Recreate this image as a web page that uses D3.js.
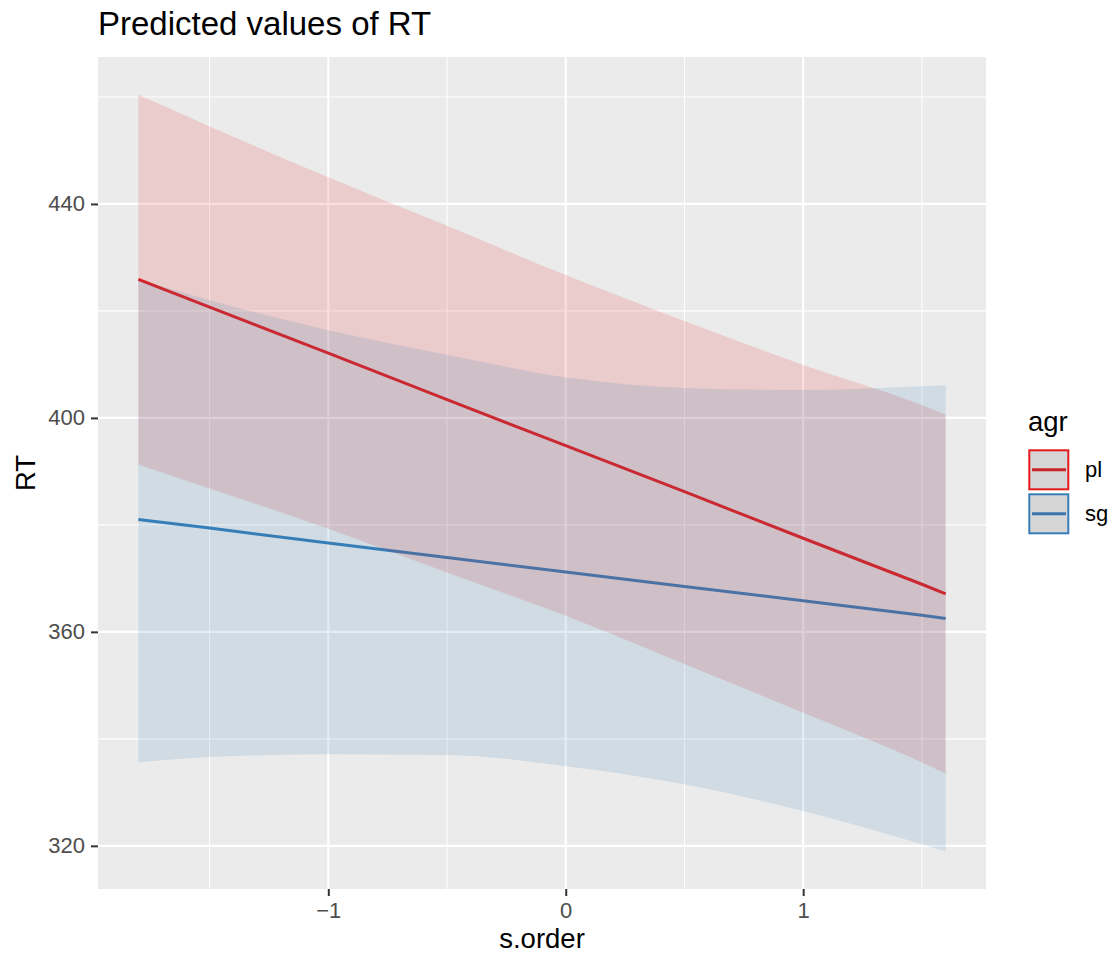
<!DOCTYPE html>
<html>
<head>
<meta charset="utf-8">
<script src="https://cdn.jsdelivr.net/npm/d3@7"></script>
<style>
  body { margin: 0; background: #fff; }
  text { font-family: "Liberation Sans", Arial, Helvetica, sans-serif; }
</style>
</head>
<body>
<svg id="chart" width="1118" height="961"></svg>
<script>
// Canvas and panel placement
const width = 1118, height = 961;
const panel = {left: 98, top: 57, right: 986, bottom: 889};

// Values
const sOrder = [-1.8, -1.5, -1, -0.5, 0, 0.5, 1, 1.5, 1.6];
const groups = ["pl", "sg"];
const plPred  = [425.9, 420.7, 412.1, 403.4, 394.8, 386.2, 377.5, 368.9, 367.1];
const plUpper = [460.4, 454.5, 445.0, 435.9, 426.7, 418.1, 409.9, 402.4, 400.6];
const plLower = [391.3, 386.8, 379.3, 371.1, 363.0, 354.0, 344.9, 335.6, 333.5];
const sgPred  = [381.0, 379.4, 376.6, 373.9, 371.2, 368.5, 365.8, 363.1, 362.5];
const sgUpper = [425.9, 422.0, 416.4, 411.8, 407.6, 405.6, 405.2, 405.9, 406.1];
const sgLower = [335.6, 336.6, 337.1, 337.0, 334.9, 331.5, 326.5, 320.3, 319.0];
const xMajor = [-1, 0, 1];
const xMinor = [-1.5, -0.5, 0.5, 1.5];
const yMajor = [320, 360, 400, 440];
const yMinor = [340, 380, 420, 460];

const colorRange = ["#e41a1c", "#377eb8"];
const keyLine = ["#cc2329", "#3b75ad"];

// build rows per group
const series = groups.map((g, gi) => {
    const pred = gi === 0 ? plPred : sgPred;
    const up = gi === 0 ? plUpper : sgUpper;
    const lo = gi === 0 ? plLower : sgLower;
    return {
        key: g,
        color: colorRange[gi],
        rows: sOrder.map((x, i) => ({x: x, y: pred[i], hi: up[i], lo: lo[i]}))
    };
});

// Scales with ggplot style 5% expansion
function expand(ext) {
    const pad = (ext[1] - ext[0]) * 0.05;
    return [ext[0] - pad, ext[1] + pad];
}
const allY = plUpper.concat(plLower, sgUpper, sgLower);
const x = d3.scaleLinear().domain(expand(d3.extent(sOrder))).range([panel.left, panel.right]);
const y = d3.scaleLinear().domain(expand(d3.extent(allY))).range([panel.bottom, panel.top]);

const svg = d3.select("#chart");

// panel background
svg.append("rect")
    .attr("x", panel.left).attr("y", panel.top)
    .attr("width", panel.right - panel.left)
    .attr("height", panel.bottom - panel.top)
    .attr("fill", "#ebebeb");

// grid
const grid = svg.append("g");
grid.selectAll(".yminor").data(yMinor).enter().append("line")
    .attr("x1", panel.left).attr("x2", panel.right)
    .attr("y1", d => y(d)).attr("y2", d => y(d))
    .attr("stroke", "#fff").attr("stroke-width", 1.1);
grid.selectAll(".xminor").data(xMinor).enter().append("line")
    .attr("y1", panel.top).attr("y2", panel.bottom)
    .attr("x1", d => x(d)).attr("x2", d => x(d))
    .attr("stroke", "#fff").attr("stroke-width", 1.1);
grid.selectAll(".ymajor").data(yMajor).enter().append("line")
    .attr("x1", panel.left).attr("x2", panel.right)
    .attr("y1", d => y(d)).attr("y2", d => y(d))
    .attr("stroke", "#fff").attr("stroke-width", 2.2);
grid.selectAll(".xmajor").data(xMajor).enter().append("line")
    .attr("y1", panel.top).attr("y2", panel.bottom)
    .attr("x1", d => x(d)).attr("x2", d => x(d))
    .attr("stroke", "#fff").attr("stroke-width", 2.2);

// prediction lines (drawn under the ribbons)
const line = d3.line().x(d => x(d.x)).y(d => y(d.y));
svg.selectAll(".pred").data(series).enter().append("path")
    .attr("d", d => line(d.rows))
    .attr("fill", "none")
    .attr("stroke", d => d.color)
    .attr("stroke-width", 3);

// confidence ribbons
const area = d3.area()
    .curve(d3.curveMonotoneX)
    .x(d => x(d.x))
    .y0(d => y(d.lo))
    .y1(d => y(d.hi));
svg.selectAll(".ci").data(series).enter().append("path")
    .attr("d", d => area(d.rows))
    .attr("fill", d => d.color)
    .attr("fill-opacity", 0.15);

// axes
const xAxis = svg.append("g")
    .attr("transform", `translate(0,${panel.bottom})`)
    .call(d3.axisBottom(x).tickValues(xMajor).tickSize(7).tickPadding(6)
        .tickFormat(d => d < 0 ? "\u2212" + Math.abs(d) : d));
const yAxis = svg.append("g")
    .attr("transform", `translate(${panel.left},0)`)
    .call(d3.axisLeft(y).tickValues(yMajor).tickSize(7).tickPadding(6));
[xAxis, yAxis].forEach(a => {
    a.select(".domain").remove();
    a.selectAll(".tick line").attr("stroke", "#333").attr("stroke-width", 2);
    a.selectAll(".tick text")
        .attr("fill", "#4d4d4d")
        .style("font-size", "22px")
        .style("font-family", "'Liberation Sans', Arial, sans-serif");
});

// titles
svg.append("text")
    .attr("x", panel.left).attr("y", 35)
    .style("font-size", "33px")
    .text("Predicted values of RT");
svg.append("text")
    .attr("x", (panel.left + panel.right) / 2).attr("y", 948)
    .attr("text-anchor", "middle")
    .style("font-size", "27.5px")
    .text("s.order");
svg.append("text")
    .attr("transform", `translate(35,${(panel.top + panel.bottom) / 2}) rotate(-90)`)
    .attr("text-anchor", "middle")
    .style("font-size", "27.5px")
    .text("RT");

// legend
const legend = svg.append("g").attr("transform", "translate(1028,0)");
legend.append("text")
    .attr("x", 0).attr("y", 431)
    .style("font-size", "27.5px")
    .text("agr");
const keySize = 41, keyTop = 449.3, keyGap = 3;
const items = legend.selectAll(".legend-item").data(series).enter().append("g")
    .attr("transform", (d, i) => `translate(0,${keyTop + i * (keySize + keyGap)})`);
items.append("rect")
    .attr("x", 1.3).attr("y", 1)
    .attr("width", keySize - 2).attr("height", keySize - 2)
    .attr("fill", "#d6d6d6")
    .attr("stroke", d => d.color)
    .attr("stroke-width", 2);
items.append("line")
    .attr("x1", 4).attr("x2", keySize - 3)
    .attr("y1", keySize / 2).attr("y2", keySize / 2)
    .attr("stroke", (d, i) => keyLine[i])
    .attr("stroke-width", 3);
items.append("text")
    .attr("x", 57).attr("y", keySize / 2)
    .attr("dy", "0.35em")
    .style("font-size", "22px")
    .text(d => d.key);
</script>
</body>
</html>
